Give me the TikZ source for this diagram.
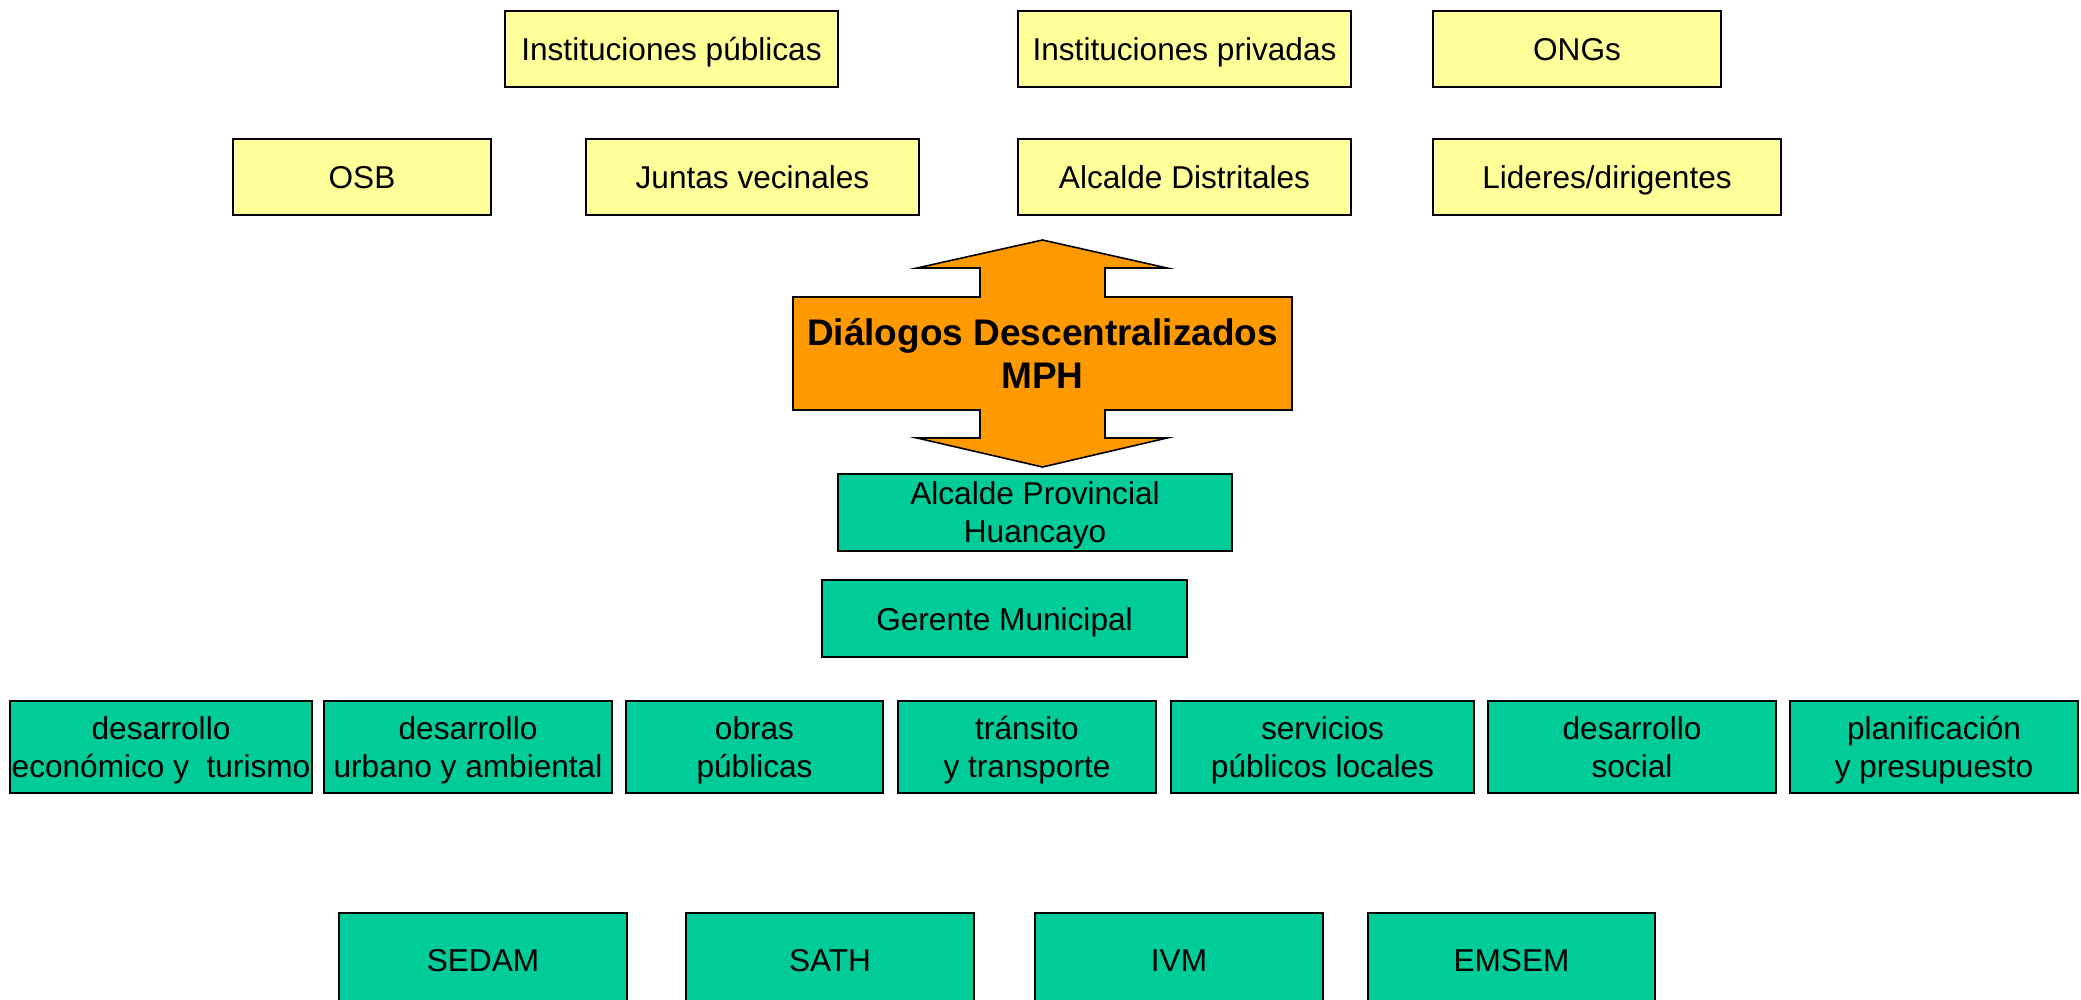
\documentclass[tikz,border=0pt]{standalone}
\usepackage{fontspec}
\setmainfont{Liberation Sans}
\usetikzlibrary{positioning}
\definecolor{actorfill}{HTML}{FFFF99}
\definecolor{officefill}{HTML}{00CC99}
\definecolor{dialogfill}{HTML}{FF9900}
\newcommand\boxstrut{\rule[-4pt]{0pt}{20pt}}
\newcommand\topstrut{\rule{0pt}{15pt}}

\begin{document}
\begin{tikzpicture}
    [x=0.5pt,y=-0.5pt,
    actor/.style={rectangle,draw=black,fill=actorfill,line width=0.8pt,
    inner sep=0pt,outer sep=0pt,minimum height=38pt,font=\fontsize{15.8}{19}\selectfont,
    execute at begin node=\boxstrut,execute at end node=\boxstrut},
    office/.style={rectangle,draw=black,fill=officefill,line width=0.8pt,
    inner sep=0pt,outer sep=0pt,minimum height=46pt,align=center,font=\fontsize{15.8}{19}\selectfont,
    execute at begin node=\boxstrut,execute at end node=\boxstrut},
    dialog/.style={draw=black,fill=dialogfill,line width=0.8pt,line join=miter}]
    \useasboundingbox (0,0) rectangle (2081,1000);
    \clip (0,0) rectangle (2081,1000);
    \node[actor,minimum width=166.5pt] (instpub) at (671.5,49) {Instituciones públicas};
    \node[actor,minimum width=166.5pt] (instpriv) [right=90pt of instpub] {Instituciones privadas};
    \node[actor,minimum width=144pt] (ongs) [right=41pt of instpriv] {ONGs};
    \node[actor,minimum width=166.5pt] (alcdist) [below=26pt of instpriv] {Alcalde Distritales};
    \node[actor,minimum width=166.5pt] (juntas) [left=49.5pt of alcdist] {Juntas vecinales};
    \node[actor,minimum width=129pt] (osb) [left=47.5pt of juntas] {OSB};
    \node[actor,minimum width=174pt] (lideres) [right=41pt of alcdist] {Lideres/dirigentes};
    \draw[dialog] (1042.5,240) -- (1167,268) -- (1105,268) -- (1105,297) -- (1292,297)
        -- (1292,410) -- (1105,410) -- (1105,438) -- (1167,438) -- (1042.5,467)
        -- (917,438) -- (980,438) -- (980,410) -- (793,410) -- (793,297)
        -- (980,297) -- (980,268) -- (917,268) -- cycle;
    \node[align=center,inner sep=0pt,font=\fontsize{18.5}{21.5}\selectfont\bfseries] (dialogo)
        at (1042.5,353.5) {Diálogos Descentralizados\\MPH};
    \node[office,minimum width=197pt,minimum height=38.5pt] (alcprov) at (1035,512.5) {\topstrut Alcalde Provincial\\Huancayo};
    \node[office,minimum width=182.5pt,minimum height=38.5pt] (gerente) at (1004.5,618.5) {Gerente Municipal};
    \node[office,minimum width=151pt] (deseco) at (161,747) {\topstrut desarrollo\\económico y\ \ turismo};
    \node[office,minimum width=144pt] (desurb) [right=6pt of deseco] {\topstrut desarrollo\\urbano y ambiental};
    \node[office,minimum width=128.5pt] (obras) [right=7pt of desurb] {\topstrut obras\\públicas};
    \node[office,minimum width=129pt] (transito) [right=7.5pt of obras] {\topstrut tránsito\\y transporte};
    \node[office,minimum width=151.5pt] (servicios) [right=7.5pt of transito] {\topstrut servicios\\públicos locales};
    \node[office,minimum width=144pt] (dessocial) [right=7pt of servicios] {\topstrut desarrollo\\social};
    \node[office,minimum width=144pt] (planif) [right=7pt of dessocial] {\topstrut planificación\\y presupuesto};
    \node[office,minimum width=144pt] (sedam) at (483,959) {SEDAM};
    \node[office,minimum width=144pt] (sath) [right=29.5pt of sedam] {SATH};
    \node[office,minimum width=144pt] (ivm) [right=30.5pt of sath] {IVM};
    \node[office,minimum width=143.5pt] (emsem) [right=22.5pt of ivm] {EMSEM};
\end{tikzpicture}
\end{document}
